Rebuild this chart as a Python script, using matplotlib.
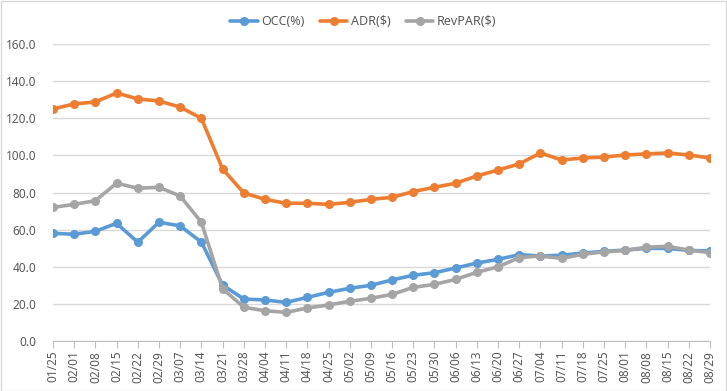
import matplotlib
matplotlib.use("Agg")
import matplotlib.pyplot as plt
from matplotlib.patches import Rectangle

dates = ["01/25","02/01","02/08","02/15","02/22","02/29","03/07","03/14","03/21","03/28",
         "04/04","04/11","04/18","04/25","05/02","05/09","05/16","05/23","05/30","06/06",
         "06/13","06/20","06/27","07/04","07/11","07/18","07/25","08/01","08/08","08/15",
         "08/22","08/29"]
occ = [58.0,57.5,59.1,63.4,53.2,64.0,62.0,53.3,30.2,22.6,
       22.1,20.8,23.5,26.2,28.4,30.0,32.9,35.4,36.8,39.3,
       42.0,44.0,46.5,45.8,46.2,47.4,48.3,49.0,49.9,49.9,
       48.8,48.5]
adr = [125.0,127.7,128.8,133.6,130.4,129.3,126.0,120.0,92.7,79.8,
       76.3,74.2,74.2,73.6,74.7,76.3,77.4,80.5,82.8,85.0,
       88.9,92.1,95.4,101.3,97.5,98.6,99.1,100.2,100.8,101.3,
       100.2,98.6]
revpar = [72.0,73.6,75.6,85.0,82.3,82.8,78.1,64.0,28.2,18.2,
          16.3,15.4,17.8,19.4,21.4,23.0,25.1,28.9,30.5,33.2,
          37.0,40.0,44.9,45.8,44.5,46.7,48.0,48.8,50.5,51.0,
          49.0,47.6]
series_names = ["OCC(%)", "ADR($)", "RevPAR($)"]
colors = ["#5B9BD5", "#ED7D31", "#A5A5A5"]
yticks = [0, 20, 40, 60, 80, 100, 120, 140, 160]

plt.rcParams['font.family'] = ['Noto Sans', 'DejaVu Sans']
fig = plt.figure(figsize=(7.27, 3.91), dpi=100)
ax = fig.add_axes([53/727, 50/391, 657/727, 297/391])

x = list(range(len(dates)))
for vals, name, c in zip([occ, adr, revpar], series_names, colors):
    ax.plot(x, vals, color=c, lw=2.6, marker='o', ms=5.5, label=name,
            solid_joinstyle='round', solid_capstyle='round')

ax.set_xlim(0, len(dates) - 1)
ax.set_ylim(0, 160)
ax.set_yticks(yticks)
ax.set_yticklabels([f"{v:.1f}" for v in yticks])
ax.set_xticks(x)
ax.set_xticklabels(dates, rotation=90)
ax.grid(axis='y', color='#D9D9D9', lw=1)
ax.set_axisbelow(True)
for s in ['top', 'right', 'left']:
    ax.spines[s].set_visible(False)
ax.spines['bottom'].set_color('#BFBFBF')
ax.tick_params(axis='y', length=0, labelsize=8.5, colors='#595959', pad=12)
ax.tick_params(axis='x', length=5, color='#BFBFBF', labelsize=8.5, labelcolor='#595959', pad=2)

leg = fig.legend(loc='upper center', bbox_to_anchor=(0.5, 0.99), ncol=3, frameon=False,
                 fontsize=9, handlelength=2.2, columnspacing=1.2, handletextpad=0.3,
                 labelcolor='#595959')

fig.add_artist(Rectangle((0.5/727, 0.5/391), 1 - 1.5/727, 1 - 1.5/391, transform=fig.transFigure,
                         fill=False, edgecolor='#D9D9D9', lw=1))
fig.savefig("out.png", dpi=100)
